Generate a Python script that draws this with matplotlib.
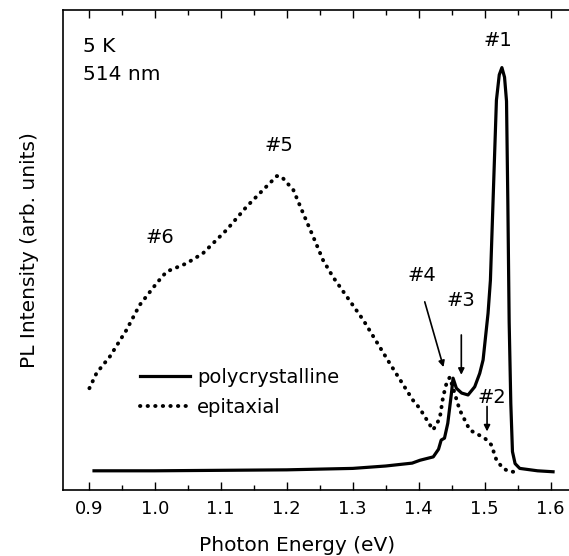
import matplotlib
matplotlib.use("Agg")
import matplotlib.pyplot as plt
from matplotlib.ticker import MultipleLocator

# 数据
poly_x = [0.908, 1.00, 1.10, 1.20, 1.30, 1.35, 1.39, 1.402, 1.422, 1.430, 1.434, 1.439,
          1.444, 1.4495, 1.452, 1.457, 1.465, 1.4747, 1.4848, 1.4924, 1.4975, 1.505, 1.5086,
          1.514, 1.5177, 1.522, 1.526, 1.530, 1.533, 1.535, 1.537, 1.5395, 1.542, 1.546,
          1.553, 1.580, 1.6035]
poly_y = [4.0, 4.0, 4.1, 4.2, 4.5, 5.0, 5.6, 6.2, 6.9, 8.5, 10.4, 10.8,
          13.9, 20.1, 23.3, 21.2, 20.2, 19.8, 21.5, 24.3, 27.1, 36.8, 43.7,
          66.0, 81.2, 86.5, 88.0, 86.0, 81.0, 60.0, 35.0, 18.0, 8.0, 5.5,
          4.5, 4.0, 3.8]

epi_x = [0.901, 0.912, 0.932, 0.957, 0.977, 1.003, 1.018, 1.048, 1.073, 1.109, 1.139,
         1.164, 1.185, 1.192, 1.210, 1.225, 1.240, 1.255, 1.270, 1.316, 1.356, 1.391,
         1.4015, 1.4217, 1.4318, 1.4369, 1.442, 1.447, 1.4545, 1.462, 1.4773, 1.500,
         1.510, 1.5177, 1.5277, 1.538, 1.548]
epi_y = [21.2, 24.4, 27.8, 33.3, 38.5, 43.1, 45.5, 47.2, 49.3, 54.2, 59.0,
         62.5, 65.4, 65.3, 62.5, 57.6, 52.8, 47.9, 44.4, 35.4, 26.4, 18.75,
         17.0, 12.5, 14.9, 19.4, 22.2, 23.5, 20.1, 16.7, 12.5, 10.8,
         9.4, 6.25, 4.5, 3.8, 3.8]

peak_labels = ["#1", "#2", "#3", "#4", "#5", "#6"]
peak_text_pos = [(1.5205, 93.7), (1.5106, 19.2), (1.4636, 39.4),
                 (1.4045, 44.6), (1.1879, 71.7), (1.0076, 52.7)]
# 箭头: (起点, 终点)
arrows = [((1.5035, 17.4), (1.5035, 12.2)),
          ((1.4645, 32.3), (1.4645, 24.0)),
          ((1.4091, 39.2), (1.4375, 25.6))]

plt.rcParams["font.family"] = ["DejaVu Sans"]

# 坐标轴右边界在图片之外 (原图被裁切)
x_lo, x_hi = 0.861, 1.66
px_per_ev = 660.0
fig = plt.figure(figsize=(5.69, 5.56), dpi=100)
ax = fig.add_axes([63 / 569, 66 / 556, (x_hi - x_lo) * px_per_ev / 569, 480 / 556])

ax.plot(poly_x, poly_y, color="black", lw=2.3, label="polycrystalline")
ax.plot(epi_x, epi_y, color="black", lw=2.8, linestyle=(0, (0.1, 1.85)),
        dash_capstyle="round", label="epitaxial")

for lab, (tx, ty) in zip(peak_labels, peak_text_pos):
    ax.text(tx, ty, lab, fontsize=14, ha="center", va="center")

for (x0, y0), (x1, y1) in arrows:
    ax.annotate("", xy=(x1, y1), xytext=(x0, y0),
                arrowprops=dict(arrowstyle="-|>", color="black", lw=1.2,
                                mutation_scale=9, shrinkA=0, shrinkB=0))

ax.text(0.8909, 91.3, "5 K", fontsize=14.5, ha="left", va="baseline")
ax.text(0.8909, 85.4, "514 nm", fontsize=14.5, ha="left", va="baseline")

ax.set_xlim(x_lo, x_hi)
ax.set_ylim(0, 100)

ax.xaxis.set_minor_locator(MultipleLocator(0.05))
ax.set_yticks([])
ax.tick_params(axis="x", which="both", direction="in", top=True, bottom=True,
               labelsize=13, pad=7.5, width=1.0)
ax.tick_params(axis="x", which="major", length=6)
ax.tick_params(axis="x", which="minor", length=3.5)
ax.set_xticks([0.9, 1.0, 1.1, 1.2, 1.3, 1.4, 1.5, 1.6])
ax.set_xticklabels(["0.9", "1.0", "1.1", "1.2", "1.3", "1.4", "1.5", "1.6"])

for s in ax.spines.values():
    s.set_linewidth(1.2)
ax.spines["right"].set_visible(False)

xl_center = (297.5 - 63) / ((x_hi - x_lo) * px_per_ev)
ax.set_xlabel("Photon Energy (eV)", fontsize=14.5)
ax.xaxis.set_label_coords(xl_center, -0.095)
ax.set_ylabel("PL Intensity (arb. units)", fontsize=14.5)
ax.yaxis.set_label_coords(-0.045, 0.5)

ax.legend(loc="upper left",
          bbox_to_anchor=((140 - 63) / ((x_hi - x_lo) * px_per_ev), (490 - 368) / 480),
          frameon=False, fontsize=14, handlelength=2.55, handletextpad=0.4,
          labelspacing=0.55, borderpad=0, borderaxespad=0)

fig.savefig("out.png", dpi=100)
